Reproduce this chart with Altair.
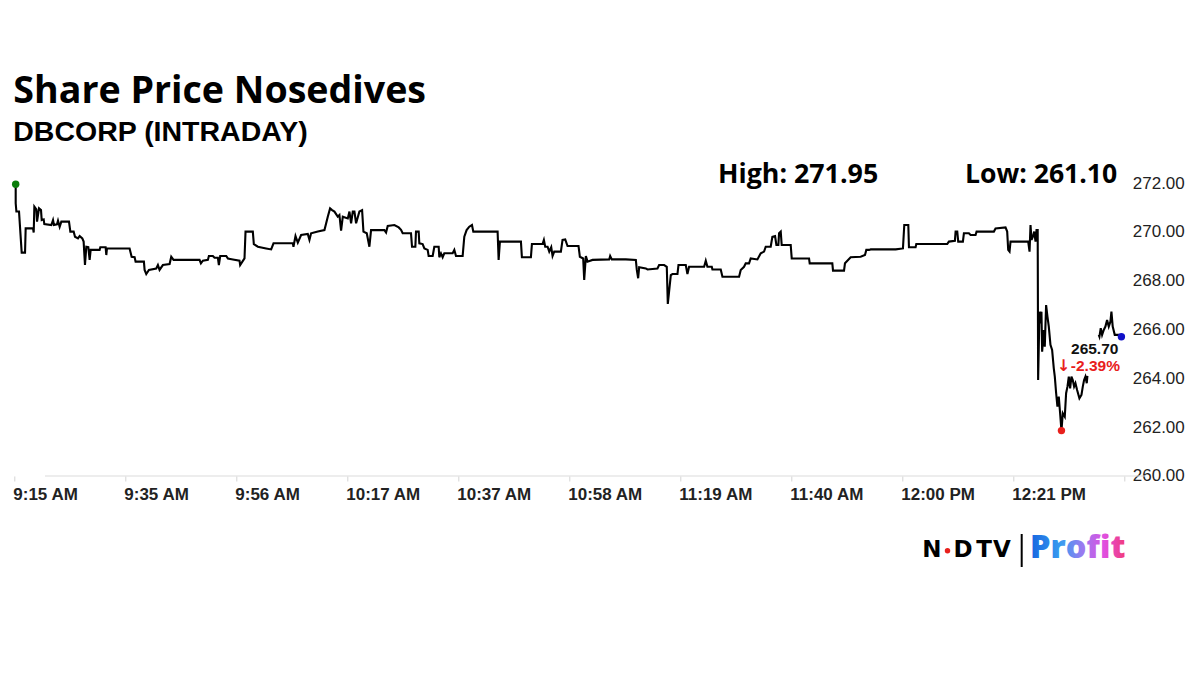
import altair as alt
import pandas as pd

# ---- data (minutes after 9:15 AM, price in INR) ----
minutes = [
    0.26, 0.26, 0.39, 0.88, 1.38, 2.00, 2.12, 3.49, 3.62, 3.74,
    4.11, 4.24, 4.61, 4.98, 5.11, 5.48, 5.60, 6.91, 7.22, 7.40,
    7.96, 8.15, 8.46, 8.77, 10.20, 10.45, 11.07, 11.32, 11.88, 12.19,
    12.68, 12.93, 13.18, 13.43, 13.80, 14.05, 14.24, 15.91, 16.04, 17.03,
    17.16, 17.28, 21.50, 21.88, 22.44, 22.62, 24.17, 24.30, 24.61, 25.11,
    26.47, 26.78, 27.09, 27.71, 28.96, 29.27, 29.70, 34.55, 34.80, 35.17,
    36.10, 36.29, 37.03, 37.34, 37.96, 38.15, 38.40, 39.52, 39.83, 40.76,
    42.00, 42.12, 42.93, 43.12, 44.48, 44.67, 45.42, 46.97, 47.90, 48.34,
    51.94, 52.06, 52.44, 52.87, 53.49, 54.73, 55.04, 55.35, 56.60, 57.84,
    58.46, 58.89, 59.27, 59.70, 60.32, 60.63, 60.94, 61.26, 62.19, 62.50,
    62.81, 63.12, 63.43, 63.74, 64.36, 64.86, 65.11, 65.73, 66.22, 66.53,
    69.02, 69.33, 69.64, 70.88, 71.69,
    72.12, 72.43, 73.98, 74.17, 74.79, 74.91, 75.41, 75.53, 76.15, 76.47,
    77.09, 77.27, 78.02, 78.33, 79.14, 79.26, 79.57, 79.88, 80.19, 81.75,
    82.06, 82.37, 83.61, 83.92, 84.35, 84.85, 85.35, 85.60, 90.13, 90.32,
    90.56, 94.48, 94.66, 96.34, 96.53, 98.51, 98.76, 99.01, 99.45, 99.76,
    100.13, 100.38, 100.69, 101.93, 102.24, 102.74, 103.17, 105.22, 105.47, 106.09,
    106.28, 106.59, 106.90, 107.83, 110.94, 111.12, 111.43, 114.04, 115.91, 116.09,
    116.34, 116.53, 117.77, 118.08, 119.94, 120.25, 121.19, 121.68, 121.87, 122.43,
    122.74, 123.67, 123.86, 125.22, 125.53, 125.84, 128.64, 128.95, 129.26, 130.07,
    130.19, 131.74, 132.06, 135.16, 135.47, 136.09, 136.40, 137.02, 137.33, 138.58,
    139.20, 139.82, 140.13, 141.06, 141.37, 141.87, 142.12, 142.49, 142.62, 142.93,
    143.11, 144.79, 144.98, 148.21, 148.33, 152.55, 152.68, 154.73, 154.91, 155.97,
    157.83, 158.64, 158.89, 159.39, 159.70, 164.36, 165.72, 165.97, 166.72, 166.84,
    168.08, 168.21, 173.98, 174.29, 175.41, 175.54, 175.85, 176.03, 176.90, 177.09,
    178.02, 178.33, 179.26, 179.45, 182.68, 182.99, 184.85, 185.16, 185.35, 185.60,
    185.78, 189.08, 189.33, 189.51, 189.70, 189.95, 190.20, 190.45, 190.63, 190.85,
    190.93, 191.18, 191.43, 191.55, 191.68, 191.99, 192.17, 192.42, 192.67, 192.92,
    193.23, 193.54, 193.85, 194.04, 194.29, 194.53, 194.78, 195.03, 195.28, 195.53,
    195.90, 196.15, 196.40, 196.65, 196.90, 197.14, 197.39, 197.64, 197.89, 198.20,
    198.63, 199.01, 199.26, 199.50, 199.75, 200.00, 200.12,
    202.24, 202.36, 202.61, 202.86, 203.17, 203.48, 203.79, 204.10, 204.41, 204.60,
    204.84, 205.22, 205.96, 206.46,
]
prices = [
    271.95, 271.17, 270.83, 270.83, 269.15, 269.15, 270.14, 270.14, 269.97, 271.03,
    270.92, 270.42, 270.96, 270.89, 270.48, 270.51, 270.32, 270.28, 270.48, 270.28,
    270.31, 270.46, 270.21, 270.42, 270.42, 270.01, 270.01, 269.80, 269.73, 269.83,
    269.73, 269.60, 268.64, 269.39, 269.37, 268.85, 269.26, 269.26, 269.37, 269.37,
    269.05, 269.32, 269.32, 268.98, 268.96, 268.78, 268.78, 268.44, 268.27, 268.44,
    268.50, 268.64, 268.44, 268.64, 268.68, 268.98, 268.85, 268.85, 268.71, 268.82,
    268.85, 269.01, 269.01, 268.94, 268.94, 268.64, 269.01, 269.01, 268.91, 268.87,
    268.82, 268.64, 268.91, 270.01, 270.01, 269.50, 269.39, 269.32, 269.28, 269.53,
    269.53, 269.39, 269.83, 269.56, 269.87, 269.91, 269.67, 269.94, 270.01, 270.07,
    270.62, 270.96, 270.89, 270.83, 270.62, 270.69, 270.05, 270.62, 270.55, 270.83,
    270.35, 270.83, 270.83, 270.35, 270.83, 270.89, 270.01, 269.94, 269.39, 270.07,
    270.07, 269.97, 270.24, 270.28, 270.18,
    270.08, 269.94, 269.94, 269.39, 269.39, 270.01, 270.01, 269.53, 269.50, 269.32,
    269.26, 269.01, 269.01, 269.39, 269.39, 268.96, 269.12, 268.96, 269.12, 269.12,
    269.26, 269.01, 269.01, 269.80, 270.07, 270.21, 270.28, 270.01, 270.01, 268.85,
    269.60, 269.60, 268.96, 268.96, 269.50, 269.50, 269.67, 269.39, 269.39, 269.19,
    269.37, 269.01, 269.19, 269.19, 269.67, 269.69, 269.42, 269.42, 268.98, 268.91,
    268.03, 269.01, 268.78, 268.85, 268.87, 269.01, 268.87, 268.87, 268.85, 268.44,
    268.10, 268.55, 268.50, 268.46, 268.50, 268.64, 268.64, 268.57, 267.05, 268.23,
    268.27, 268.27, 268.64, 268.64, 268.27, 268.57, 268.57, 268.82, 268.57, 268.57,
    268.46, 268.46, 268.16, 268.16, 268.44, 268.57, 268.71, 268.71, 268.91, 268.87,
    269.12, 269.19, 269.39, 269.39, 269.80, 269.83, 269.46, 269.46, 269.94, 270.01,
    269.46, 269.46, 268.91, 268.91, 268.71, 268.71, 268.41, 268.41, 268.71, 268.96,
    268.98, 269.05, 269.26, 269.26, 269.28, 269.28, 269.32, 270.28, 270.28, 269.37,
    269.37, 269.50, 269.50, 269.60, 269.63, 270.01, 270.01, 269.60, 269.60, 269.94,
    269.94, 269.87, 269.87, 270.01, 270.01, 270.14, 270.18, 270.01, 269.26, 269.19,
    269.60, 269.60, 269.19, 270.28, 269.67, 269.80, 270.01, 269.60, 270.07, 270.07,
    263.93, 266.73, 266.25, 266.73, 265.09, 265.98, 265.30, 267.00, 266.53, 266.12,
    265.37, 265.16, 264.41, 264.07, 263.39, 262.84, 263.25, 262.57, 261.86, 262.57,
    262.43, 263.39, 263.66, 264.07, 263.59, 264.07, 263.93, 263.66, 263.80, 263.52,
    263.18, 263.32, 263.66, 263.93, 264.07, 263.80, 264.10,
    265.78, 265.71, 266.05, 265.78, 265.98, 266.12, 266.39, 266.12, 266.32, 266.73,
    266.12, 265.78, 265.78, 265.70,
]

x_tick_labels = ["9:15 AM", "9:35 AM", "9:56 AM", "10:17 AM", "10:37 AM",
                 "10:58 AM", "11:19 AM", "11:40 AM", "12:00 PM", "12:21 PM", ""]
tick_step = 20.7
y_ticks = [260, 262, 264, 266, 268, 270, 272]

title_text = "Share Price Nosedives"
subtitle_text = "DBCORP (INTRADAY)"
high_text = "High: 271.95"
low_text = "Low: 261.10"
change_text = "-2.39%"
arrow_text = "\u2193"

# ---- frames ----
df = pd.DataFrame({"t": minutes, "p": prices})
df["i"] = range(len(df))
df["seg"] = (df["t"] > 201).astype(int)   # the line is hidden behind the price label here

imin = int(df["p"].idxmin())
marks_df = pd.DataFrame({
    "t": [minutes[0], minutes[imin], minutes[-1]],
    "p": [prices[0], prices[imin], prices[-1]],
    "c": ["#0a7d0a", "#e8201c", "#1010c8"],
})
last_df = marks_df.iloc[[2]].reset_index(drop=True)
one = pd.DataFrame({"k": [0]})

W, H = 1110, 293

labels_js = "[" + ",".join("'" + s + "'" for s in x_tick_labels) + "]"
x_enc = alt.X(
    "t:Q",
    scale=alt.Scale(domain=[0, 207], nice=False, zero=False),
    axis=alt.Axis(
        values=[round(k * tick_step, 2) for k in range(len(x_tick_labels))],
        labelExpr=labels_js + "[round(datum.value / " + str(tick_step) + ")]",
        title=None, grid=False, domain=False,
        ticks=True, tickColor="#d4d4d4", tickSize=5, tickWidth=1,
        labelAlign="left", labelOffset=-1.5, labelPadding=6,
        labelFont="Liberation Sans", labelFontSize=17, labelFontWeight="bold",
        labelColor="#222222", labelFlush=False, labelOverlap=False,
    ),
)
y_enc = alt.Y(
    "p:Q",
    scale=alt.Scale(domain=[260, 272], nice=False, zero=False),
    axis=alt.Axis(
        orient="right", values=y_ticks, format=".2f", title=None,
        grid=False, domain=False, ticks=False, labelPadding=8,
        labelFont="Liberation Sans", labelFontSize=17, labelColor="#222222",
        labelFlush=False,
    ),
)

axis_line = alt.Chart(one).mark_rule(color="#dcdcdc", strokeWidth=1.2).encode(
    x=alt.value(30.7), x2=alt.value(1130.7), y=alt.value(H)
)

line = alt.Chart(df).mark_line(color="#000000", strokeWidth=2.1, interpolate="linear").encode(
    x=x_enc, y=y_enc, detail="seg:N", order="i:Q"
)

dots = alt.Chart(marks_df).mark_circle(size=55, opacity=1).encode(
    x=x_enc, y=y_enc, color=alt.Color("c:N", scale=None, legend=None)
)

price_lbl = alt.Chart(last_df).mark_text(
    align="right", baseline="alphabetic", dx=-3, dy=17, font="Liberation Sans",
    fontSize=15.5, fontWeight="bold", color="#111111"
).encode(x=x_enc, y=y_enc, text=alt.Text("p:Q", format=".2f"))

chg_lbl = alt.Chart(last_df).mark_text(
    align="right", baseline="alphabetic", dx=-1.5, dy=34, font="Liberation Sans",
    fontSize=15.5, fontWeight="bold", color="#e8201c"
).encode(x=x_enc, y=y_enc, text=alt.value(change_text))

arrow_lbl = alt.Chart(last_df).mark_text(
    align="center", baseline="alphabetic", dx=-58, dy=34, font="DejaVu Sans",
    fontSize=16, fontWeight="bold", color="#e8201c"
).encode(x=x_enc, y=y_enc, text=alt.value(arrow_text))


def label(text, x, y, size, font="Open Sans", weight="bold", color="#000000", align="left"):
    return alt.Chart(one).mark_text(
        text=text, align=align, baseline="alphabetic", font=font,
        fontSize=size, fontWeight=weight, color=color
    ).encode(x=alt.value(x), y=alt.value(y))


title_l = label(title_text, -1, -79.7, 37.6)
sub_l = label(subtitle_text, -1, -41.6, 28.5, font="Liberation Sans")
high_l = label(high_text, 703.7, 0.3, 26.8)
low_l = label(low_text, 950.7, 0.3, 26.6)

# ---- NDTV | Profit logo ----
logo = []
for ch, cx in zip("NDTV", [917.7, 948.7, 969.7, 987.7]):
    logo.append(label(ch, cx, 374.3, 23, font="DejaVu Sans", align="center"))
logo.append(alt.Chart(one).mark_circle(size=30, color="#e8201c", opacity=1).encode(
    x=alt.value(933.2), y=alt.value(367.7)))
logo.append(alt.Chart(one).mark_rule(color="#000000", strokeWidth=2).encode(
    x=alt.value(1007.4), y=alt.value(351), y2=alt.value(384)))
profit_grad = alt.LinearGradient(
    gradient="linear",
    stops=[alt.GradientStop(color="#1766e0", offset=0),
           alt.GradientStop(color="#3a9cf0", offset=0.33),
           alt.GradientStop(color="#9a7af0", offset=0.55),
           alt.GradientStop(color="#e04fe0", offset=0.78),
           alt.GradientStop(color="#f23b7a", offset=1)],
    x1=0, x2=1, y1=0, y2=0,
)
logo.append(alt.Chart(one).mark_text(
    text="Profit", align="left", baseline="alphabetic", font="Open Sans",
    fontSize=32.5, fontWeight=800, fill=profit_grad
).encode(x=alt.value(1015.7), y=alt.value(375.3)))

chart = alt.layer(
    axis_line, line, dots, price_lbl, chg_lbl, arrow_lbl,
    title_l, sub_l, high_l, low_l, *logo
).properties(
    width=W, height=H,
    padding={"left": 6.3, "top": 175, "right": 67, "bottom": 100},
    autosize=alt.AutoSizeParams(type="none"),
    background="#ffffff",
).configure_view(stroke=None)

chart.save("out.html", embed_options={"renderer": "svg", "actions": False})
